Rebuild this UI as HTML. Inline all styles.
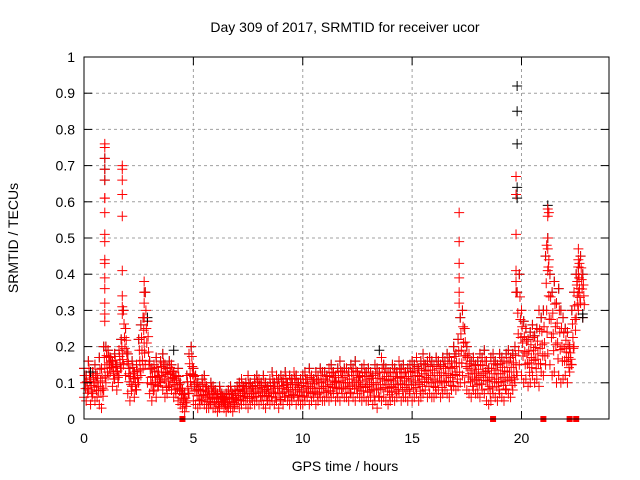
<!DOCTYPE html>
<html><head><meta charset="utf-8"><style>
body{margin:0;background:#fff}
svg{display:block;font-family:"Liberation Sans",sans-serif}
</style></head><body>
<svg id="chart" width="640" height="480" xmlns="http://www.w3.org/2000/svg">
<text x="345" y="32" font-size="14" text-anchor="middle">Day 309 of 2017, SRMTID for receiver ucor</text>
<text x="345" y="471" font-size="14" text-anchor="middle">GPS time / hours</text>
<text x="18" y="238" font-size="14" text-anchor="middle" transform="rotate(-90 18 238)">SRMTID / TECUs</text>
<g id="grid"></g>
<g id="marks"></g>
<g id="axes"></g>
</svg>
<script>
const xTicks=[0,5,10,15,20];
const yTicks=[0,0.1,0.2,0.3,0.4,0.5,0.6,0.7,0.8,0.9,1];
const yTickLabels=["0","0.1","0.2","0.3","0.4","0.5","0.6","0.7","0.8","0.9","1"];
const bandStart=0, bandStep=0.1;
const redHi=[.14,.12,.16,.11,.13,.15,.12,.17,.14,.2, .2,.19,.17,.16,.18,.15,.19,.22,.3,.25, .18,.14,.16,.13,.15,.22,.26,.28,.35,.27, .16,.14,.15,.17,.13,.16,.18,.15,.14,.16, .15,.13,.12,.14,.1,.08,.07,.12,.18,.2, .14,.12,.1,.09,.11,.12,.09,.08,.1,.09, .08,.07,.09,.07,.06,.07,.08,.09,.07,.08, .09,.1,.11,.09,.1,.12,.1,.09,.11,.12, .11,.1,.12,.1,.09,.11,.13,.1,.12,.11, .12,.11,.13,.1,.12,.11,.13,.12,.1,.11, .12,.13,.11,.14,.12,.11,.13,.12,.14,.13, .13,.12,.14,.15,.13,.12,.14,.16,.13,.14, .14,.13,.15,.14,.16,.13,.12,.14,.15,.13, .14,.13,.12,.15,.14,.13,.17,.15,.14,.13, .13,.15,.14,.13,.16,.14,.15,.13,.14,.15, .16,.15,.17,.14,.16,.18,.15,.16,.17,.16, .15,.17,.16,.15,.17,.16,.18,.17,.16,.2, .18,.22,.28,.3,.25,.2,.18,.16,.17,.15, .16,.18,.17,.19,.16,.14,.17,.18,.16,.15, .18,.17,.16,.18,.19,.17,.18,.2,.35,.4, .3,.27,.25,.22,.24,.26,.23,.25,.3,.28, .3,.45,.5,.4,.35,.38,.32,.36,.3,.28, .25,.24,.2,.3,.35,.4,.42,.45,.4];
const redLo=[.06,.05,.08,.04,.07,.05,.06,.04,.03,.08, .1,.12,.13,.09,.11,.08,.12,.14,.15,.12, .07,.05,.09,.06,.08,.1,.12,.14,.15,.1, .07,.05,.08,.06,.09,.1,.08,.06,.07,.09, .08,.06,.07,.05,.04,.03,.02,.05,.07,.09, .05,.04,.03,.04,.05,.04,.03,.03,.04,.03, .03,.02,.03,.04,.03,.02,.03,.03,.02,.04, .04,.03,.04,.05,.04,.03,.04,.05,.04,.05, .04,.05,.04,.03,.05,.04,.05,.04,.05,.03, .05,.04,.06,.05,.04,.05,.06,.04,.05,.04, .04,.05,.06,.04,.05,.06,.04,.05,.06,.05, .05,.06,.05,.06,.07,.05,.06,.05,.07,.06, .06,.05,.07,.06,.05,.07,.06,.05,.06,.05, .05,.06,.04,.05,.03,.06,.05,.06,.05,.04, .05,.06,.05,.06,.07,.05,.06,.06,.05,.07, .05,.06,.07,.05,.06,.07,.08,.06,.07,.06, .06,.07,.08,.06,.07,.08,.07,.06,.08,.09, .08,.09,.1,.12,.1,.08,.07,.06,.08,.07, .07,.06,.08,.07,.05,.04,.05,.07,.06,.05, .07,.06,.05,.08,.07,.06,.08,.1,.12,.15, .12,.1,.11,.09,.1,.12,.1,.11,.09,.13, .12,.15,.18,.15,.12,.13,.1,.12,.1,.11, .12,.1,.13,.15,.2,.28,.3,.32,.28];
const spikeT=[0.95,0.95,0.95,0.95,0.95,0.95,0.95,0.95,0.95,0.95,0.95,0.95,0.95,0.95,0.95,0.95,0.95, 1.75,1.75,1.75,1.75,1.75,1.75,1.75,1.75,1.75, 2.75,2.75,2.75,2.75, 17.15,17.15,17.15,17.15,17.15,17.15, 19.75,19.75,19.75,19.75,19.75,19.75, 21.2,21.25,21.2,21.15,21.2,21.25,21.2, 22.6,22.6,22.65,22.6,22.55,22.6];
const spikeV=[.76,.75,.72,.69,.66,.61,.61,.57,.51,.49,.44,.43,.39,.36,.32,.29,.27, .70,.69,.66,.62,.56,.41,.34,.31,.29, .38,.35,.32,.28, .57,.49,.43,.39,.35,.32, .67,.62,.51,.41,.38,.35, .58,.57,.56,.48,.47,.44,.41, .47,.44,.43,.40,.38,.35];
const blackT=[19.8,19.8,19.8,19.8,19.8,0.95,0.95,0.95,21.2,22.8,22.8,2.9,0.3,4.1,13.5];
const blackV=[.92,.85,.76,.64,.61,.72,.69,.66,.59,.29,.28,.28,.13,.19,.19];
const flagT=[4.5,18.7,21.0,22.2,22.5];

const L=84,R=609,T=57,B=419,XMAX=24;
const sx=t=>L+t/XMAX*(R-L), sy=v=>B-v*(B-T);
const NS="http://www.w3.org/2000/svg";
function mk(tag,attrs,parent){const e=document.createElementNS(NS,tag);for(const k in attrs)e.setAttribute(k,attrs[k]);parent.appendChild(e);return e;}
const grid=document.getElementById('grid'),marks=document.getElementById('marks'),axes=document.getElementById('axes');
yTicks.forEach((v,i)=>{const y=sy(v);
 if(i>0&&i<yTicks.length-1){const g=mk('line',{x1:L,x2:R,y1:y,y2:y,stroke:'#a0a0a0','stroke-dasharray':'3,3'},grid);
 }
 const t1=mk('line',{x1:L,x2:L+8,y1:y,y2:y,stroke:'#000'},axes);
 const t2=mk('line',{x1:R-8,x2:R,y1:y,y2:y,stroke:'#000'},axes);
 const lb=mk('text',{x:L-9,y:y+5,'font-size':14,'text-anchor':'end'},axes);lb.textContent=yTickLabels[i];
 });
xTicks.forEach(t=>{const x=sx(t);
 if(t>0){const g=mk('line',{x1:x,x2:x,y1:T,y2:B,stroke:'#a0a0a0','stroke-dasharray':'3,3'},grid);
 }
 const t1=mk('line',{x1:x,x2:x,y1:B-8,y2:B,stroke:'#000'},axes);
 const t2=mk('line',{x1:x,x2:x,y1:T,y2:T+8,stroke:'#000'},axes);
 const lb=mk('text',{x:x,y:B+24,'font-size':14,'text-anchor':'middle'},axes);lb.textContent=String(t);
 });
const frame=mk('rect',{x:L,y:T,width:R-L,height:B-T,fill:'none',stroke:'#000'},axes);

function plus(t,v,col,name){const x=sx(t),y=sy(v);
 const p=mk('path',{d:`M${x-5},${y}H${x+5}M${x},${y-5}V${y+5}`,stroke:col,'stroke-width':1},marks);
 }
redHi.forEach((v,i)=>plus(bandStart+i*bandStep,v,'#000','black-point'));
redHi.forEach((v,i)=>{const t=bandStart+i*bandStep;
 plus(t,v,'#f00','red-point');plus(t+0.05,(v+redLo[i])/2,'#f00','red-point');plus(t,redLo[i],'#f00','red-point');
 plus(t+0.03,v*0.75+redLo[i]*0.25,'#f00','red-point');plus(t+0.07,v*0.3+redLo[i]*0.7,'#f00','red-point');});
blackT.forEach((t,i)=>plus(t,blackV[i],'#000','black-point'));
spikeT.forEach((t,i)=>plus(t,spikeV[i],'#f00','red-spike-point'));
flagT.forEach(t=>{const r=mk('rect',{x:sx(t)-3,y:B-3,width:6,height:6,fill:'#f00'},marks);
 });
</script>
</body></html>
